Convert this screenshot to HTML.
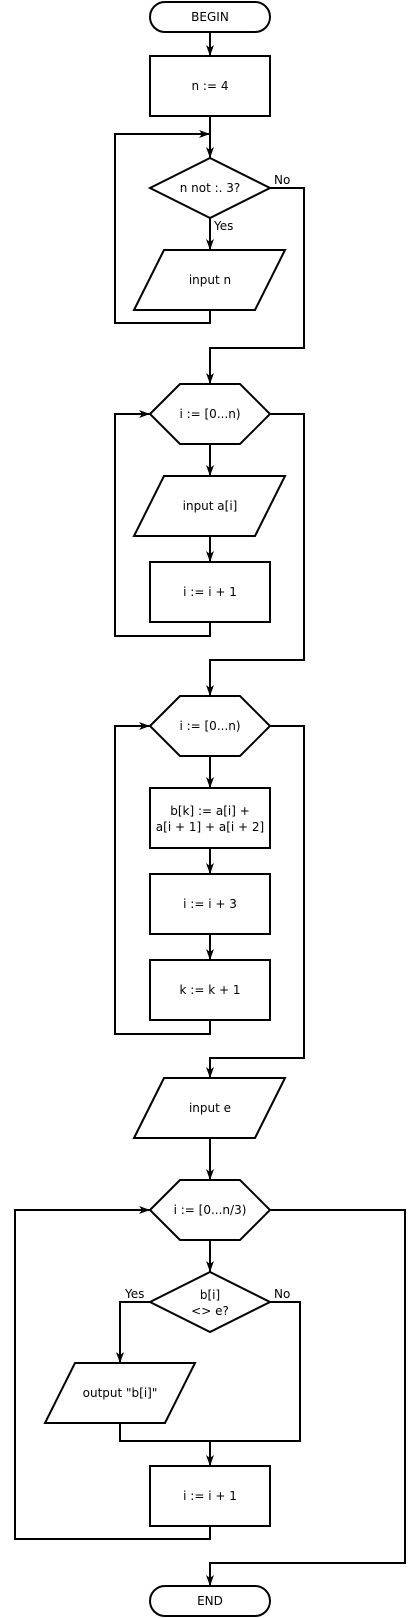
<!DOCTYPE html>
<html><head><meta charset="utf-8"><style>
html,body{margin:0;padding:0;background:#fff}
svg{display:block}
text{font-family:"DejaVu Sans","Liberation Sans",sans-serif;font-size:12px;fill:#000}
</style></head><body>
<svg width="420" height="1618" viewBox="0 0 420 1618" xmlns="http://www.w3.org/2000/svg">
<defs>
<marker id="a" markerWidth="12" markerHeight="8" refX="11" refY="4" orient="auto" markerUnits="userSpaceOnUse">
<path d="M0,0 L11,4 L0,8 L3,4 Z" fill="#000"/>
</marker>
</defs>
<g fill="none" stroke="#000" stroke-width="2">
<!-- shapes -->
<rect x="150" y="2" width="120" height="30" rx="15"/>
<rect x="150" y="56" width="120" height="60"/>
<polygon points="150,188 210,158 270,188 210,218"/>
<polygon points="164,250 285,250 255,310 134,310"/>
<polygon points="150,414 180,384 240,384 270,414 240,444 180,444"/>
<polygon points="164,476 285,476 255,536 134,536"/>
<rect x="150" y="562" width="120" height="60"/>
<polygon points="150,726 180,696 240,696 270,726 240,756 180,756"/>
<rect x="150" y="788" width="120" height="60"/>
<rect x="150" y="874" width="120" height="60"/>
<rect x="150" y="960" width="120" height="60"/>
<polygon points="164,1078 285,1078 255,1138 134,1138"/>
<polygon points="150,1210 180,1180 240,1180 270,1210 240,1240 180,1240"/>
<polygon points="150,1302 210,1272 270,1302 210,1332"/>
<polygon points="75,1363 195,1363 165,1423 45,1423"/>
<rect x="150" y="1466" width="120" height="60"/>
<rect x="150" y="1586" width="120" height="30" rx="15"/>
<!-- connectors -->
<path d="M210,32 V56" marker-end="url(#a)"/>
<path d="M210,116 V158" marker-end="url(#a)"/>
<path d="M210,310 V323 H115 V134 H210" marker-end="url(#a)"/>
<path d="M210,218 V250" marker-end="url(#a)"/>
<path d="M270,188 H304 V348 H210 V384" marker-end="url(#a)"/>
<path d="M210,444 V476" marker-end="url(#a)"/>
<path d="M210,536 V562" marker-end="url(#a)"/>
<path d="M210,622 V636 H115 V414 H150" marker-end="url(#a)"/>
<path d="M270,414 H304 V660 H210 V696" marker-end="url(#a)"/>
<path d="M210,756 V788" marker-end="url(#a)"/>
<path d="M210,848 V874" marker-end="url(#a)"/>
<path d="M210,934 V960" marker-end="url(#a)"/>
<path d="M210,1020 V1034 H115 V726 H150" marker-end="url(#a)"/>
<path d="M270,726 H304 V1058 H210 V1078" marker-end="url(#a)"/>
<path d="M210,1138 V1180" marker-end="url(#a)"/>
<path d="M210,1240 V1272" marker-end="url(#a)"/>
<path d="M150,1302 H120 V1363" marker-end="url(#a)"/>
<path d="M270,1302 H300 V1441 H210"/>
<path d="M120,1423 V1441 H210 V1466" marker-end="url(#a)"/>
<path d="M210,1526 V1539 H15 V1210 H150" marker-end="url(#a)"/>
<path d="M270,1210 H405 V1563 H210 V1586" marker-end="url(#a)"/>
</g>
<g text-anchor="middle">
<text x="210" y="21">BEGIN</text>
<text x="210" y="90">n := 4</text>
<text x="210" y="192">n not :. 3?</text>
<text x="210" y="284">input n</text>
<text x="210" y="418">i := [0...n)</text>
<text x="210" y="510">input a[i]</text>
<text x="210" y="596">i := i + 1</text>
<text x="210" y="730">i := [0...n)</text>
<text x="210" y="815">b[k] := a[i] +</text>
<text x="210" y="831">a[i + 1] + a[i + 2]</text>
<text x="210" y="908">i := i + 3</text>
<text x="210" y="994">k := k + 1</text>
<text x="210" y="1112">input e</text>
<text x="210" y="1214">i := [0...n/3)</text>
<text x="210" y="1299">b[i]</text>
<text x="210" y="1315">&lt;&gt; e?</text>
<text x="120" y="1397">output "b[i]"</text>
<text x="210" y="1500">i := i + 1</text>
<text x="210" y="1605">END</text>
</g>
<text x="274" y="184">No</text>
<text x="214" y="230">Yes</text>
<text x="125" y="1298">Yes</text>
<text x="274" y="1298">No</text>
</svg>
</body></html>
